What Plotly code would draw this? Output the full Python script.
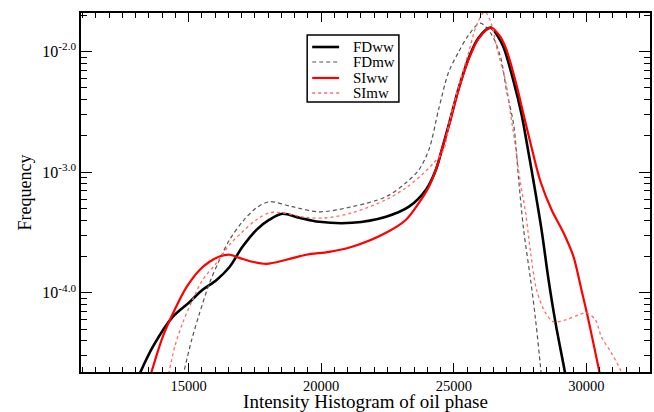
import numpy as np
import plotly.graph_objects as go

# Intensity bins and histogram frequencies for each run
fdww_x = [13050, 13646, 14398, 15038, 15526, 16053, 16541, 17030, 17557, 18046,
          18534, 19174, 19926, 21166, 22445, 23310, 23950, 24325, 24550, 24813,
          25190, 25566, 25942, 26393, 26650, 26881, 27258, 27559, 27784, 28010,
          28310, 28574, 28837, 29175, 29260]
fdww_y = [1.9e-5, 3.56e-5, 6.32e-5, 8.41e-5, 1.06e-4, 1.28e-4, 1.64e-4, 2.41e-4, 3.33e-4, 4.04e-4,
          4.53e-4, 4.19e-4, 3.88e-4, 3.81e-4, 4.28e-4, 5.18e-4, 7.16e-4, 1.05e-3, 1.54e-3, 2.48e-3,
          5.02e-3, 8.91e-3, 1.31e-2, 1.58e-2, 1.35e-2, 1.08e-2, 5.64e-3, 3.0e-3, 1.60e-3, 8.34e-4,
          3.33e-4, 1.28e-4, 5.64e-5, 2.30e-5, 1.8e-5]

fdmw_x = [14720, 15113, 15414, 15790, 16166, 16541, 17030, 17557, 18046, 18910,
          19926, 21166, 22445, 23197, 23686, 24062, 24438, 24813, 25190, 25566,
          26000, 26430, 26769, 26994, 27258, 27446, 27634, 27897, 28085, 28272, 28330]
fdmw_y = [1.78e-5, 4.07e-5, 6.82e-5, 1.21e-4, 1.88e-4, 2.75e-4, 3.89e-4, 5.07e-4, 5.69e-4, 5.18e-4,
          4.70e-4, 5.18e-4, 6.27e-4, 8.18e-4, 1.05e-3, 1.54e-3, 3.39e-3, 6.82e-3, 1.0e-2, 1.38e-2,
          1.72e-2, 1.38e-2, 8.91e-3, 4.68e-3, 2.48e-3, 8.67e-4, 3.33e-4, 1.28e-4, 5.97e-5, 2.43e-5, 1.78e-5]

siww_x = [13500, 14022, 14473, 14925, 15414, 15790, 16166, 16541, 16918, 17406,
          17933, 18685, 19437, 20302, 21166, 22445, 23197, 23686, 24062, 24325,
          24550, 24813, 25190, 25566, 25942, 26393, 26700, 26956, 27333, 27634,
          27934, 28272, 28687, 29137, 29514, 29814, 30078, 30341, 30491, 30560]
siww_y = [1.86e-5, 4.32e-5, 7.24e-5, 1.12e-4, 1.55e-4, 1.81e-4, 2.00e-4, 2.07e-4, 1.95e-4, 1.81e-4,
          1.74e-4, 1.88e-4, 2.07e-4, 2.19e-4, 2.41e-4, 3.15e-4, 4.04e-4, 5.58e-4, 7.59e-4, 1.05e-3,
          1.54e-3, 2.40e-3, 4.90e-3, 8.71e-3, 1.29e-2, 1.58e-2, 1.38e-2, 1.08e-2, 5.64e-3, 3.0e-3,
          1.60e-3, 8.34e-4, 4.89e-4, 3.15e-4, 2.0e-4, 1.06e-4, 5.97e-5, 3.18e-5, 2.21e-5, 1.78e-5]

simw_x = [14200, 14473, 14774, 15150, 15526, 16053, 16541, 17030, 17557, 18046,
          18534, 19287, 20100, 21166, 22445, 23197, 23799, 24250, 24625, 24813,
          25190, 25566, 25866, 26170, 26430, 26618, 26956, 27145, 27333, 27500,
          27709, 27897, 28122, 28461, 28762, 29212, 29702, 30003, 30341, 30567,
          30942, 31318, 31450]
simw_y = [1.9e-5, 3.56e-5, 5.64e-5, 8.75e-5, 1.28e-4, 1.77e-4, 2.50e-4, 3.21e-4, 4.04e-4, 4.61e-4,
          4.61e-4, 4.27e-4, 4.17e-4, 4.61e-4, 5.92e-4, 7.43e-4, 9.55e-4, 1.20e-3, 1.54e-3, 2.51e-3,
          5.25e-3, 1.0e-2, 1.67e-2, 2.14e-2, 1.67e-2, 1.08e-2, 5.64e-3, 3.0e-3, 1.60e-3, 8.51e-4,
          4.61e-4, 2.15e-4, 1.06e-4, 6.82e-5, 5.75e-5, 5.97e-5, 6.56e-5, 6.82e-5, 5.97e-5, 4.32e-5,
          3.18e-5, 2.21e-5, 1.78e-5]

series_names = ["FDww", "FDmw", "SIww", "SImw"]
y_tickvals = [1e-4, 1e-3, 1e-2]
y_ticktext = ["10<sup>-4.0</sup>", "10<sup>-3.0</sup>", "10<sup>-2.0</sup>"]
x_tickvals = [15000, 20000, 25000, 30000]

FONT = "Liberation Serif"

styles = [
    dict(color="black", width=2.6, dash="solid"),
    dict(color="#555555", width=1.2, dash="4px,3px"),
    dict(color="#ff0000", width=2.2, dash="solid"),
    dict(color="#ff6a6a", width=1.3, dash="dot"),
]

fig = go.Figure()
for name, xs, ys, st in zip(series_names,
                            [fdww_x, fdmw_x, siww_x, simw_x],
                            [fdww_y, fdmw_y, siww_y, simw_y], styles):
    fig.add_trace(go.Scatter(x=xs, y=ys, name=name, mode="lines", showlegend=False,
                             line=dict(shape="spline", smoothing=0.9, **st)))

# compact boxed legend in the upper middle of the plot
box_x0, box_x1, box_y0, box_y1 = 0.3975, 0.5587, 0.752, 0.9387
fig.add_shape(type="rect", xref="paper", yref="paper", x0=box_x0, x1=box_x1, y0=box_y0, y1=box_y1,
              line=dict(color="black", width=1.5), fillcolor="white", layer="above")
row_y = [0.9053, 0.8635, 0.819, 0.7772]
for name, st, yy in zip(series_names, styles, row_y):
    fig.add_shape(type="line", xref="paper", yref="paper", x0=0.4063, x1=0.4536, y0=yy, y1=yy,
                  line=dict(color=st["color"], width=st["width"], dash=st["dash"]), layer="above")
    fig.add_annotation(xref="paper", yref="paper", x=0.4746, y=yy, xanchor="left", yanchor="middle",
                       text=name, showarrow=False, font=dict(family=FONT, size=15, color="black"))

# minor log ticks (2..9 x each decade)
y_minor = [m * 10.0 ** e for e in range(-5, -1) for m in range(2, 10)]

fig.update_layout(
    width=654, height=412,
    margin=dict(l=81, r=2, t=13, b=40),
    paper_bgcolor="white", plot_bgcolor="white",
    font=dict(family=FONT, color="black", size=15),
    showlegend=False,
)

fig.update_xaxes(
    range=[10940, 32400], showgrid=False, zeroline=False,
    showline=True, linecolor="black", linewidth=1.5, mirror="allticks",
    ticks="inside", ticklen=9, tickwidth=1, tickcolor="black",
    tickvals=x_tickvals, ticktext=[str(v) for v in x_tickvals],
    tickfont=dict(family=FONT, size=14.5),
    minor=dict(ticks="inside", ticklen=5, tickwidth=1, tickcolor="black", dtick=500, tick0=0),
    title=dict(text="Intensity Histogram of oil phase", font=dict(family=FONT, size=19), standoff=1),
)

fig.update_yaxes(
    type="log", range=[-4.656, -1.68], showgrid=False, zeroline=False,
    showline=True, linecolor="black", linewidth=1.5, mirror="allticks",
    ticks="inside", ticklen=11, tickwidth=1, tickcolor="black",
    tickvals=y_tickvals, ticktext=y_ticktext,
    tickfont=dict(family=FONT, size=16),
    minor=dict(ticks="inside", ticklen=6, tickwidth=1, tickcolor="black", tickvals=y_minor),
    title=dict(text="Frequency", font=dict(family=FONT, size=18), standoff=6),
)

fig.write_html("out.html")
